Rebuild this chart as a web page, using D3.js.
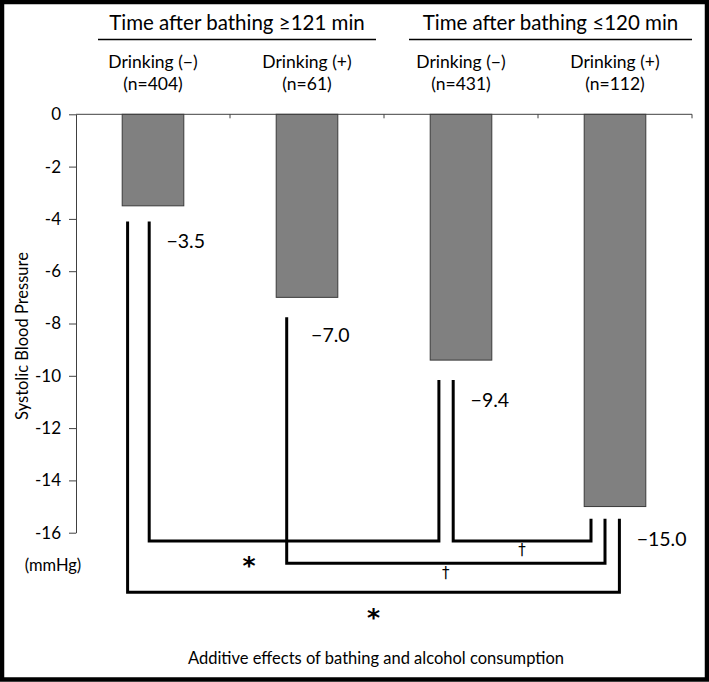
<!DOCTYPE html>
<html><head><meta charset="utf-8">
<script src="https://cdn.jsdelivr.net/npm/d3@7/dist/d3.min.js"></script>
<style>
body{margin:0;background:#fff}
svg{display:block}
text{font-family:Lato,"Open Sans",sans-serif;fill:#000}
</style>
</head><body>
<svg id="chart" width="709" height="682"></svg>
<script>
// ---- data ----
const groupTitles = ["Time after bathing ≥121 min", "Time after bathing ≤120 min"];
const drinkingLabels = ["Drinking (−)", "Drinking (+)", "Drinking (−)", "Drinking (+)"];
const sampleSizes = ["(n=404)", "(n=61)", "(n=431)", "(n=112)"];
const sbpChange = [-3.5, -7.0, -9.4, -15.0];
const valueLabels = ["−3.5", "−7.0", "−9.4", "−15.0"];
const yTickValues = [0, -2, -4, -6, -8, -10, -12, -14, -16];
const compFrom = [0, 2, 1, 0];
const compTo = [2, 3, 3, 3];
const compMarks = ["*", "†", "†", "*"];
const yTitle = "Systolic Blood Pressure";
const yUnit = "(mmHg)";
const xTitle = "Additive effects of bathing and alcohol consumption";

// ---- layout ----
const svg = d3.select("#chart");
const W = 709, H = 682;
svg.append("rect").attr("x", 2).attr("y", 2).attr("width", W - 4).attr("height", H - 4.5)
  .attr("fill", "#fff").attr("stroke", "#000").attr("stroke-width", 4.5);

const idx = d3.range(sbpChange.length);
const x = d3.scaleBand().domain(idx).range([76, 692]).paddingInner(0.6).paddingOuter(0.3);
const y = d3.scaleLinear().domain([0, -16]).range([114.3, 532.7]);
const step = x.step();
const x0 = 76;

// y axis
const yAxis = d3.axisLeft(y).tickValues(yTickValues).tickSizeInner(7).tickSizeOuter(0).tickPadding(8)
  .tickFormat(d => d === 0 ? "0" : "-" + Math.abs(d));
const gy = svg.append("g").attr("transform", `translate(${x0},0)`).call(yAxis);
gy.select(".domain").attr("stroke", "#404040");
gy.selectAll(".tick line").attr("stroke", "#404040");
gy.selectAll(".tick text").style("font-family", "Lato").style("font-size", "17px").attr("fill", "#000");

// bars
svg.append("g").selectAll("rect").data(idx).join("rect")
  .attr("x", i => x(i)).attr("width", x.bandwidth())
  .attr("y", y(0)).attr("height", i => y(sbpChange[i]) - y(0))
  .attr("fill", "#808080").attr("stroke", "#3a3a3a").attr("stroke-width", 1);

// top category axis (at zero)
svg.append("line").attr("x1", x0).attr("x2", x0 + step * idx.length)
  .attr("y1", y(0)).attr("y2", y(0)).attr("stroke", "#404040").attr("stroke-width", 1);
svg.append("g").selectAll("line").data(idx).join("line")
  .attr("x1", i => x0 + step * (i + 1)).attr("x2", i => x0 + step * (i + 1))
  .attr("y1", y(0)).attr("y2", y(0) + 4).attr("stroke", "#404040");

// header labels
const centers = idx.map(i => x(i) + x.bandwidth() / 2);
svg.append("g").selectAll("text").data(idx).join("text")
  .attr("x", i => centers[i]).attr("y", 61).attr("text-anchor", "middle")
  .attr("dominant-baseline", "central").style("font-size", "17.5px").text(i => drinkingLabels[i]);
svg.append("g").selectAll("text").data(idx).join("text")
  .attr("x", i => centers[i]).attr("y", 83).attr("text-anchor", "middle")
  .attr("dominant-baseline", "central").style("font-size", "17.5px").text(i => sampleSizes[i]);

const groupSpans = [[x0 + 22, x0 + step * 2 - 8], [x0 + step * 2 + 25, x0 + step * 4]];
groupTitles.forEach((t, g) => {
  const [a, b] = groupSpans[g];
  svg.append("line").attr("x1", a).attr("x2", b).attr("y1", 39.5).attr("y2", 39.5)
    .attr("stroke", "#000").attr("stroke-width", 1.5);
  svg.append("text").attr("x", (a + b) / 2).attr("y", 22).attr("text-anchor", "middle")
    .attr("dominant-baseline", "central").style("font-size", "20.5px").text(t);
});

// value labels
const labelDx = [44.3, 34.9, 40.4, 52.5];
const labelDy = [35, 37.3, 39.3, 31.6];
svg.append("g").selectAll("text").data(idx).join("text")
  .attr("x", i => x(i) + labelDx[i]).attr("y", i => y(sbpChange[i]) + labelDy[i])
  .attr("dominant-baseline", "central").style("font-size", "19.5px").text(i => valueLabels[i]);

// significance brackets
const lineTopGap = [15.6, 20, 20, 12.3];
const fromDx = [27, 23, 10.5, 5.4];
const toDx = [8.7, 6.8, 20.8, 35.2];
const levelDy = [8.3, 8.3, 30.6, 59.6];
const markDx = [-45, 0, 0, 0];
const markDy = [19, 9, 10, 20];
const base = y(-16);
const br = svg.append("g").attr("fill", "none").attr("stroke", "#000").attr("stroke-width", 3)
  .attr("stroke-linejoin", "miter");
compFrom.forEach((f, k) => {
  const t = compTo[k];
  const xa = x(f) + fromDx[k], xb = x(t) + toDx[k];
  const ya = y(sbpChange[f]) + lineTopGap[f], yb = y(sbpChange[t]) + lineTopGap[t];
  const yl = base + levelDy[k];
  br.append("path").attr("d", `M${xa},${ya}V${yl}H${xb}V${yb}`);
  const isStar = compMarks[k] === "*";
  svg.append("text").attr("x", (xa + xb) / 2 + markDx[k]).attr("y", yl + markDy[k])
    .attr("text-anchor", "middle").attr("dominant-baseline", "central")
    .style("font-family", "'DejaVu Sans'")
    .style("font-size", isStar ? "25px" : "15px").style("font-weight", isStar ? "bold" : "normal")
    .style("fill", "#000")
    .attr("dy", isStar ? "0.2em" : "0").text(compMarks[k]);
});

// axis titles
svg.append("text").attr("transform", "translate(22,336) rotate(-90)").attr("text-anchor", "middle")
  .attr("dominant-baseline", "central").style("font-size", "16.5px").text(yTitle);
svg.append("text").attr("x", 53).attr("y", 565).attr("text-anchor", "middle")
  .attr("dominant-baseline", "central").style("font-size", "16.5px").text(yUnit);
svg.append("text").attr("x", 376).attr("y", 658).attr("text-anchor", "middle")
  .attr("dominant-baseline", "central").style("font-size", "16.5px").text(xTitle);
</script>
</body></html>
